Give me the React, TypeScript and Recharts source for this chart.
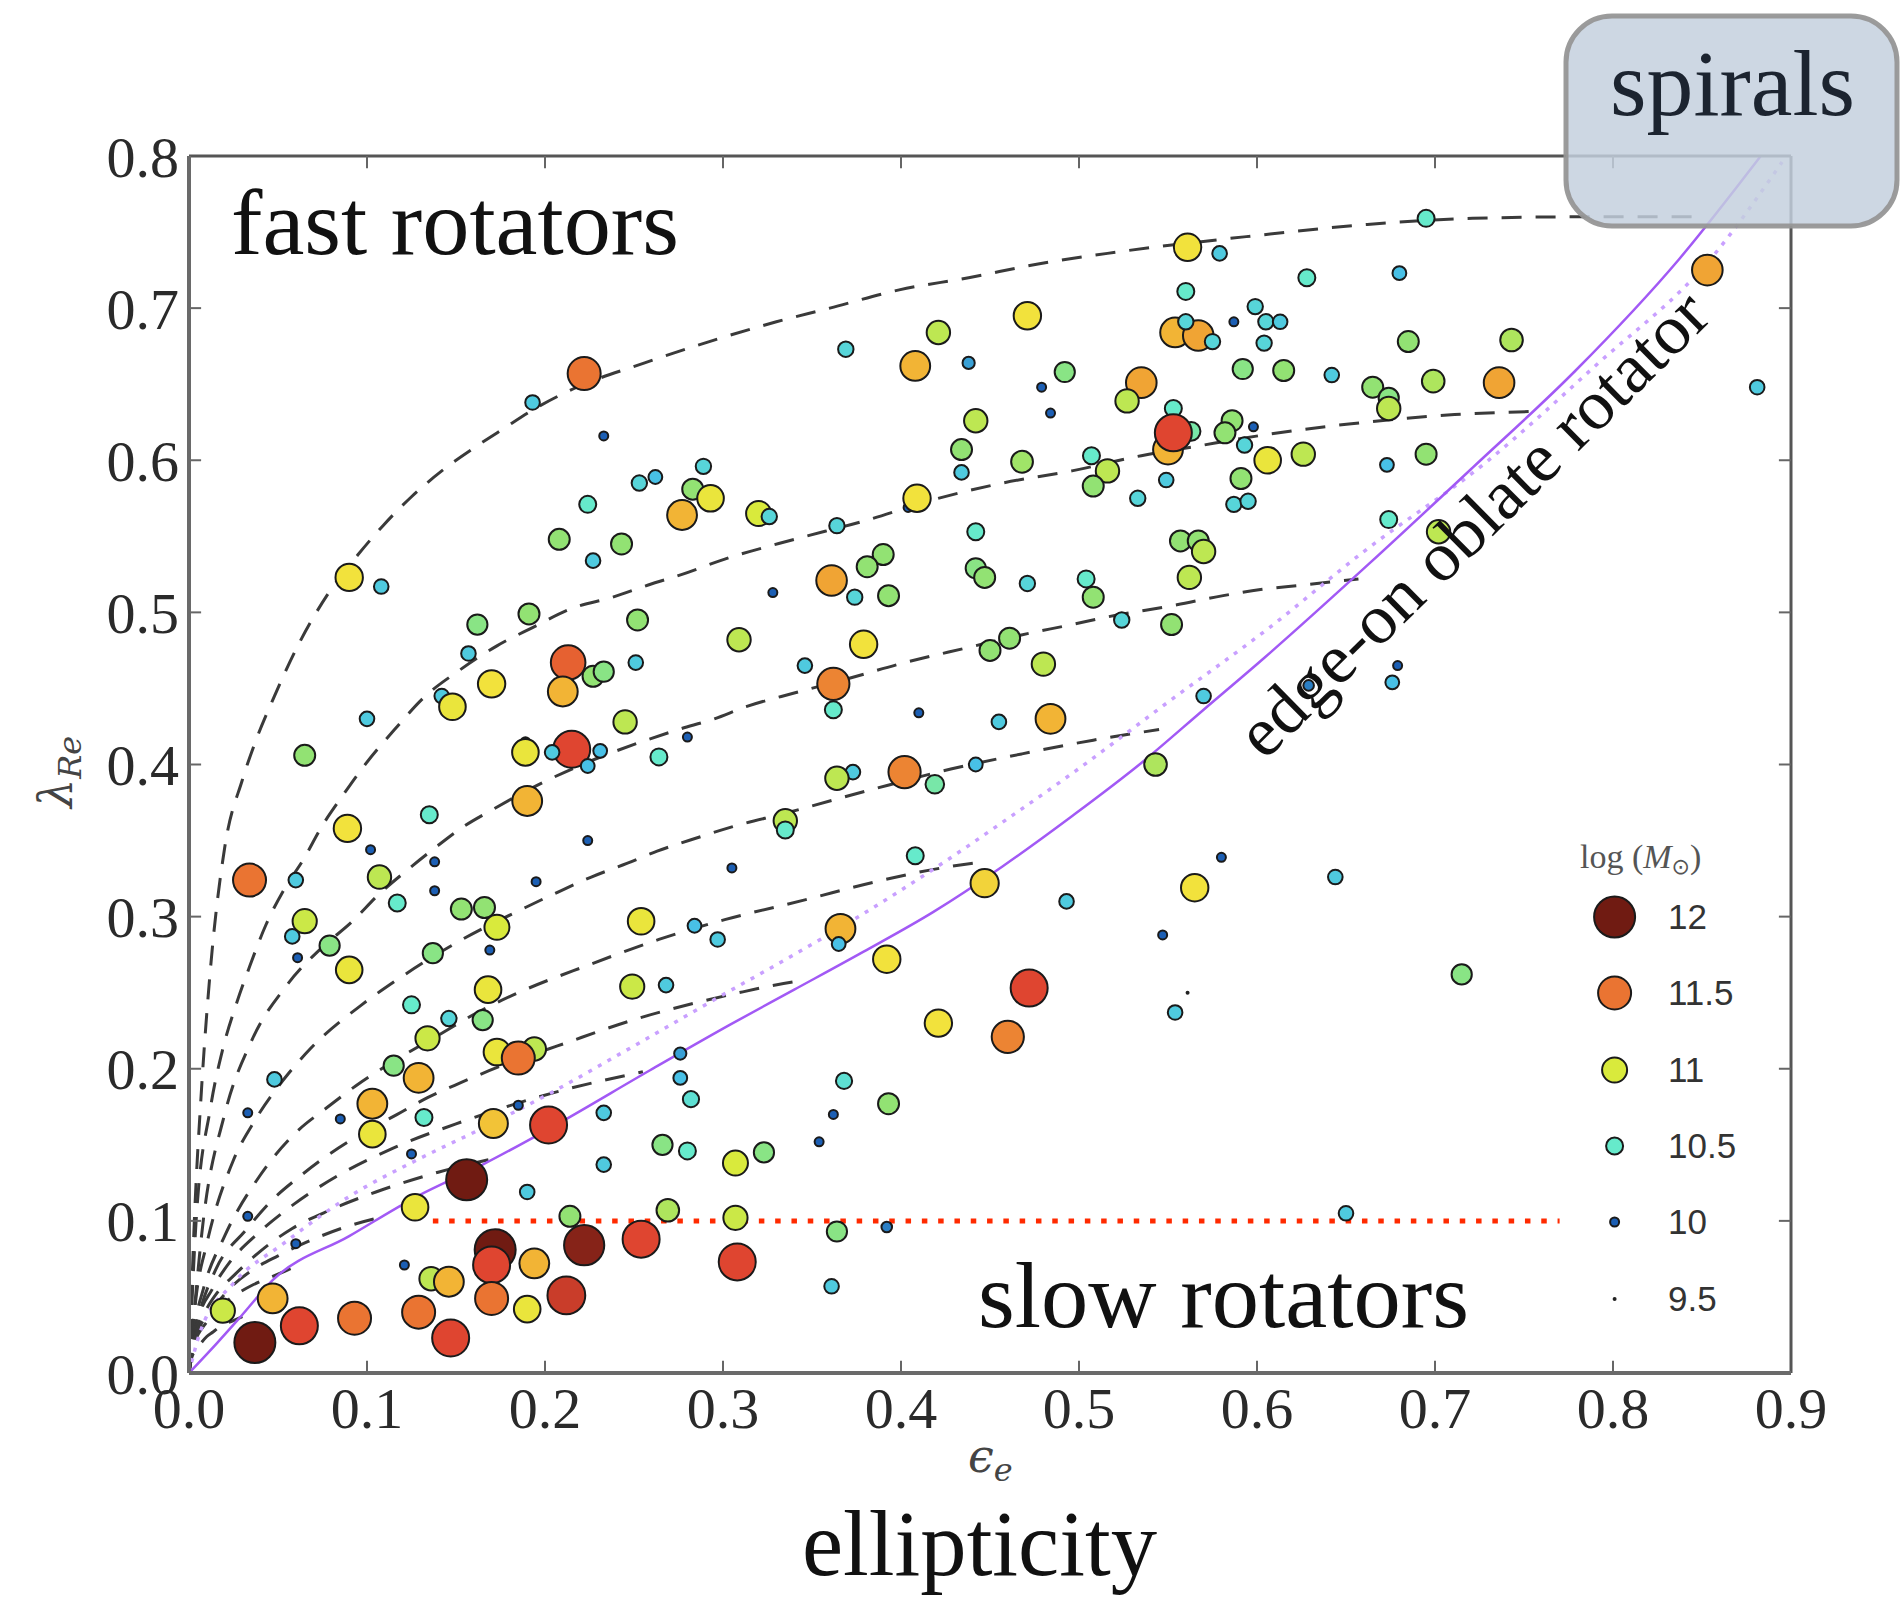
import React from "react";
import { ComposedChart, XAxis, YAxis, Scatter, Line, ReferenceLine } from "recharts";

const W = 1900;
const H = 1603;
const serif = "'Liberation Serif', 'DejaVu Serif', serif";
const sans = "'Liberation Sans', Arial, sans-serif";

const xTicks = [0, 0.1, 0.2, 0.3, 0.4, 0.5, 0.6, 0.7, 0.8, 0.9];
const yTicks = [0, 0.1, 0.2, 0.3, 0.4, 0.5, 0.6, 0.7, 0.8];

// galaxies: [ellipticity, lambda_Re, log M]
const upperMiddle: [number, number, number][] = [
  [0.561, 0.74, 11.15], [0.579, 0.736, 10.35], [0.56, 0.711, 10.5], [0.471, 0.695, 11.15],
  [0.421, 0.684, 10.9], [0.369, 0.673, 10.4], [0.408, 0.662, 11.3], [0.438, 0.664, 10.2],
  [0.554, 0.684, 11.3], [0.567, 0.682, 11.35], [0.56, 0.691, 10.4], [0.575, 0.678, 10.4],
  [0.587, 0.691, 10.0], [0.599, 0.701, 10.4], [0.605, 0.691, 10.4], [0.604, 0.677, 10.4],
  [0.592, 0.66, 10.7], [0.492, 0.658, 10.7], [0.479, 0.648, 10.0], [0.484, 0.631, 10.0],
  [0.535, 0.651, 11.35], [0.527, 0.639, 10.9], [0.553, 0.634, 10.5], [0.55, 0.607, 11.3],
  [0.563, 0.619, 10.6], [0.553, 0.618, 11.75], [0.586, 0.626, 10.75], [0.582, 0.618, 10.75],
  [0.598, 0.622, 10.0], [0.593, 0.61, 10.4], [0.606, 0.6, 11.1], [0.591, 0.588, 10.75],
  [0.587, 0.571, 10.4], [0.595, 0.573, 10.4], [0.442, 0.626, 10.9], [0.434, 0.607, 10.75],
  [0.434, 0.592, 10.35], [0.468, 0.599, 10.8], [0.507, 0.603, 10.5], [0.516, 0.593, 10.9],
  [0.508, 0.583, 10.75], [0.533, 0.575, 10.4], [0.549, 0.587, 10.35], [0.404, 0.569, 10.0],
  [0.409, 0.575, 11.15], [0.32, 0.565, 11.0], [0.326, 0.563, 10.4], [0.364, 0.557, 10.4],
  [0.442, 0.553, 10.5], [0.39, 0.538, 10.75], [0.381, 0.53, 10.75], [0.361, 0.521, 11.35],
  [0.374, 0.51, 10.4], [0.393, 0.511, 10.75], [0.328, 0.513, 10.0], [0.442, 0.529, 10.7],
  [0.447, 0.523, 10.75], [0.471, 0.519, 10.4], [0.504, 0.522, 10.5], [0.508, 0.51, 10.75],
  [0.557, 0.547, 10.75], [0.567, 0.547, 10.75], [0.57, 0.54, 10.9], [0.562, 0.523, 10.9],
  [0.552, 0.492, 10.75], [0.524, 0.495, 10.4], [0.309, 0.482, 10.9], [0.379, 0.479, 11.15],
  [0.346, 0.465, 10.35], [0.362, 0.453, 11.45], [0.362, 0.436, 10.5], [0.41, 0.434, 10.0],
  [0.455, 0.428, 10.35], [0.461, 0.483, 10.75], [0.45, 0.475, 10.75], [0.48, 0.466, 10.9],
  [0.484, 0.43, 11.3], [0.57, 0.445, 10.35], [0.543, 0.4, 10.85], [0.402, 0.395, 11.45],
  [0.373, 0.395, 10.35], [0.442, 0.4, 10.3],
];

const upperLeft: [number, number, number][] = [
  [0.222, 0.657, 11.5], [0.193, 0.638, 10.35], [0.233, 0.616, 10.0], [0.289, 0.596, 10.4],
  [0.253, 0.585, 10.4], [0.262, 0.589, 10.3], [0.283, 0.581, 10.75], [0.293, 0.575, 11.1],
  [0.277, 0.564, 11.3], [0.224, 0.571, 10.5], [0.208, 0.548, 10.75], [0.243, 0.545, 10.75],
  [0.227, 0.534, 10.35], [0.09, 0.523, 11.15], [0.108, 0.517, 10.35], [0.191, 0.499, 10.75],
  [0.162, 0.492, 10.7], [0.252, 0.495, 10.75], [0.157, 0.473, 10.35], [0.251, 0.467, 10.35],
  [0.213, 0.467, 11.6], [0.227, 0.458, 10.75], [0.233, 0.461, 10.7], [0.17, 0.453, 11.15],
  [0.21, 0.448, 11.3], [0.142, 0.445, 10.35], [0.148, 0.438, 11.1], [0.1, 0.43, 10.35],
  [0.245, 0.428, 10.9], [0.28, 0.418, 10.0], [0.065, 0.406, 10.75], [0.215, 0.41, 11.75],
  [0.189, 0.415, 10.0], [0.189, 0.408, 11.1], [0.204, 0.408, 10.35], [0.231, 0.409, 10.3],
  [0.264, 0.405, 10.5], [0.224, 0.399, 10.3],
];

const upperRight: [number, number, number][] = [
  [0.695, 0.759, 10.5], [0.628, 0.72, 10.5], [0.68, 0.723, 10.3], [0.613, 0.691, 10.35],
  [0.685, 0.678, 10.75], [0.743, 0.679, 10.85], [0.853, 0.725, 11.35], [0.615, 0.659, 10.75],
  [0.642, 0.656, 10.35], [0.699, 0.652, 10.85], [0.736, 0.651, 11.35], [0.665, 0.648, 10.75],
  [0.674, 0.641, 10.7], [0.674, 0.634, 10.9], [0.881, 0.648, 10.35], [0.626, 0.604, 10.9],
  [0.673, 0.597, 10.3], [0.695, 0.604, 10.75], [0.674, 0.561, 10.5], [0.702, 0.553, 10.9],
  [0.679, 0.465, 10.0], [0.676, 0.454, 10.3], [0.629, 0.452, 10.1],
];

const lowerLeft: [number, number, number][] = [
  [0.034, 0.324, 11.5], [0.06, 0.324, 10.35], [0.089, 0.358, 11.15], [0.135, 0.367, 10.5],
  [0.19, 0.376, 11.3], [0.224, 0.35, 10.0], [0.102, 0.344, 10.0], [0.107, 0.326, 10.9],
  [0.117, 0.309, 10.5], [0.138, 0.336, 10.0], [0.138, 0.317, 10.0], [0.195, 0.323, 10.0],
  [0.065, 0.297, 10.95], [0.058, 0.287, 10.35], [0.079, 0.281, 10.7], [0.061, 0.273, 10.0],
  [0.09, 0.265, 11.1], [0.153, 0.305, 10.75], [0.166, 0.306, 10.75], [0.173, 0.293, 11.0],
  [0.169, 0.278, 10.0], [0.137, 0.276, 10.7], [0.254, 0.297, 11.1], [0.284, 0.294, 10.3],
  [0.297, 0.285, 10.35], [0.168, 0.252, 11.1], [0.125, 0.242, 10.5], [0.146, 0.233, 10.4],
  [0.165, 0.232, 10.7], [0.134, 0.22, 10.95], [0.249, 0.254, 10.95], [0.268, 0.255, 10.35],
  [0.194, 0.213, 10.9], [0.173, 0.211, 11.1], [0.185, 0.207, 11.5], [0.048, 0.193, 10.35],
  [0.115, 0.202, 10.7], [0.129, 0.194, 11.3], [0.103, 0.177, 11.3], [0.103, 0.157, 11.1],
  [0.132, 0.168, 10.5], [0.171, 0.164, 11.25], [0.185, 0.176, 10.0], [0.202, 0.163, 11.75],
  [0.033, 0.171, 10.0], [0.085, 0.167, 10.0], [0.125, 0.144, 10.0], [0.233, 0.171, 10.35],
  [0.276, 0.21, 10.2], [0.276, 0.194, 10.3], [0.282, 0.18, 10.45], [0.266, 0.15, 10.7],
  [0.28, 0.146, 10.5], [0.233, 0.137, 10.35], [0.156, 0.127, 12.0], [0.127, 0.109, 11.1],
  [0.19, 0.119, 10.35], [0.214, 0.103, 10.75], [0.269, 0.107, 10.85], [0.307, 0.138, 11.0],
  [0.033, 0.103, 10.0], [0.06, 0.085, 10.0], [0.222, 0.084, 11.95], [0.254, 0.088, 11.75],
  [0.172, 0.081, 12.0], [0.17, 0.071, 11.75], [0.194, 0.072, 11.3], [0.121, 0.071, 10.0],
  [0.136, 0.062, 10.9], [0.146, 0.06, 11.3], [0.308, 0.073, 11.75], [0.17, 0.049, 11.5],
  [0.19, 0.042, 11.1], [0.212, 0.051, 11.8], [0.019, 0.041, 10.95], [0.047, 0.049, 11.3],
  [0.037, 0.02, 12.0], [0.062, 0.031, 11.75], [0.093, 0.036, 11.5], [0.129, 0.04, 11.5],
  [0.147, 0.023, 11.75],
];

const lowerMiddle: [number, number, number][] = [
  [0.364, 0.391, 10.9], [0.419, 0.387, 10.6], [0.335, 0.363, 10.9], [0.335, 0.357, 10.5],
  [0.305, 0.332, 10.0], [0.408, 0.34, 10.5], [0.447, 0.322, 11.2], [0.58, 0.339, 10.0],
  [0.565, 0.319, 11.15], [0.493, 0.31, 10.35], [0.547, 0.288, 10.0], [0.366, 0.292, 11.3],
  [0.365, 0.282, 10.3], [0.392, 0.272, 11.15], [0.472, 0.253, 11.75], [0.561, 0.25, 9.6],
  [0.554, 0.237, 10.35], [0.421, 0.23, 11.15], [0.46, 0.221, 11.45], [0.368, 0.192, 10.45],
  [0.362, 0.17, 10.0], [0.393, 0.177, 10.75], [0.354, 0.152, 10.0], [0.323, 0.145, 10.7],
  [0.307, 0.102, 10.95], [0.364, 0.093, 10.7], [0.392, 0.096, 10.1], [0.361, 0.057, 10.35],
];

const farRight: [number, number, number][] = [
  [0.644, 0.326, 10.35], [0.715, 0.262, 10.7], [0.65, 0.105, 10.35],
];

// inclination tracks (dashed), [eps, lambda]
const trackA: [number, number][] = [
  [0, 0], [0.003, 0.1], [0.007, 0.186], [0.012, 0.265], [0.02, 0.345], [0.03, 0.39], [0.037, 0.414],
  [0.048, 0.445], [0.062, 0.48], [0.078, 0.512], [0.095, 0.538], [0.109, 0.557], [0.125, 0.576],
  [0.142, 0.593], [0.16, 0.608], [0.177, 0.621], [0.193, 0.633], [0.216, 0.647], [0.256, 0.664],
  [0.295, 0.679], [0.33, 0.691], [0.36, 0.7], [0.399, 0.712], [0.438, 0.72], [0.477, 0.729],
  [0.516, 0.736], [0.594, 0.747], [0.662, 0.755], [0.721, 0.759], [0.779, 0.76], [0.846, 0.76],
];
const trackB: [number, number][] = [
  [0, 0], [0.004, 0.1], [0.012, 0.174], [0.019, 0.213], [0.027, 0.244], [0.034, 0.267], [0.043, 0.294],
  [0.054, 0.319], [0.064, 0.337], [0.075, 0.36], [0.086, 0.379], [0.097, 0.397], [0.117, 0.425],
  [0.131, 0.443], [0.152, 0.462], [0.173, 0.478], [0.193, 0.49], [0.216, 0.503], [0.238, 0.51],
  [0.258, 0.518], [0.277, 0.525], [0.301, 0.535], [0.34, 0.548], [0.379, 0.56], [0.418, 0.574],
  [0.457, 0.585], [0.496, 0.593], [0.535, 0.603], [0.565, 0.609], [0.606, 0.617], [0.653, 0.624],
  [0.711, 0.63], [0.753, 0.632],
];
const trackC: [number, number][] = [
  [0, 0], [0.008, 0.1], [0.02, 0.17], [0.035, 0.218], [0.055, 0.255], [0.075, 0.28], [0.091, 0.296],
  [0.107, 0.315], [0.123, 0.331], [0.138, 0.345], [0.154, 0.359], [0.17, 0.37], [0.195, 0.386],
  [0.225, 0.402], [0.252, 0.414], [0.275, 0.423], [0.295, 0.43], [0.313, 0.438], [0.34, 0.447],
  [0.369, 0.456], [0.399, 0.466], [0.438, 0.477], [0.467, 0.485], [0.496, 0.492], [0.516, 0.497],
  [0.555, 0.505], [0.581, 0.511], [0.602, 0.515], [0.626, 0.518], [0.657, 0.522],
];
const trackD: [number, number][] = [
  [0, 0], [0.004, 0.05], [0.01, 0.085], [0.025, 0.14], [0.037, 0.166], [0.056, 0.197], [0.068, 0.213],
  [0.097, 0.242], [0.115, 0.257], [0.152, 0.284], [0.189, 0.306], [0.207, 0.316], [0.226, 0.326],
  [0.246, 0.335], [0.263, 0.343], [0.286, 0.352], [0.305, 0.359], [0.335, 0.368], [0.385, 0.384],
  [0.428, 0.397], [0.468, 0.407], [0.508, 0.416], [0.545, 0.423],
];
const trackE: [number, number][] = [
  [0, 0], [0.003, 0.03], [0.008, 0.055], [0.02, 0.09], [0.04, 0.13], [0.06, 0.158], [0.077, 0.174],
  [0.094, 0.189], [0.115, 0.205], [0.14, 0.222], [0.162, 0.237], [0.185, 0.25], [0.224, 0.268],
  [0.264, 0.285], [0.301, 0.298], [0.346, 0.311], [0.386, 0.323], [0.428, 0.333], [0.447, 0.336],
];
const trackF: [number, number][] = [
  [0, 0], [0.002, 0.02], [0.006, 0.04], [0.015, 0.068], [0.032, 0.094], [0.047, 0.114], [0.062, 0.129],
  [0.079, 0.144], [0.098, 0.158], [0.117, 0.17], [0.134, 0.181], [0.153, 0.191], [0.18, 0.204],
  [0.207, 0.215], [0.252, 0.233], [0.287, 0.244], [0.309, 0.25], [0.334, 0.256], [0.345, 0.258],
];
const trackG: [number, number][] = [
  [0, 0], [0.005, 0.034], [0.013, 0.055], [0.023, 0.073], [0.038, 0.091], [0.059, 0.111],
  [0.084, 0.13], [0.115, 0.148], [0.153, 0.165], [0.204, 0.184], [0.255, 0.198],
];
const trackH: [number, number][] = [
  [0, 0], [0.0035, 0.024], [0.009, 0.04], [0.016, 0.053], [0.026, 0.065], [0.04, 0.08],
  [0.058, 0.095], [0.079, 0.107], [0.105, 0.119], [0.14, 0.132], [0.175, 0.142],
];
const trackI: [number, number][] = [
  [0, 0], [0.002, 0.018], [0.0055, 0.029], [0.01, 0.038], [0.0165, 0.047], [0.025, 0.058],
  [0.036, 0.068], [0.05, 0.077], [0.066, 0.086], [0.088, 0.096], [0.11, 0.103],
];
const trackJ: [number, number][] = [
  [0, 0], [0.001, 0.012], [0.003, 0.02], [0.0054, 0.026], [0.009, 0.032], [0.014, 0.039],
  [0.02, 0.046], [0.027, 0.052], [0.036, 0.058], [0.048, 0.064], [0.06, 0.07],
];
const trackK: [number, number][] = [
  [0, 0], [0.0015, 0.01], [0.0045, 0.016], [0.007, 0.02], [0.01, 0.024], [0.0135, 0.027],
  [0.018, 0.031], [0.024, 0.034], [0.03, 0.037],
];

// edge-on oblate rotator (solid) and isotropic (dotted) lines
const edgeOnLine: [number, number][] = [
  [0, 0], [0.016, 0.02], [0.029, 0.037], [0.047, 0.061], [0.09, 0.09], [0.128, 0.116], [0.165, 0.137],
  [0.203, 0.161], [0.259, 0.199], [0.304, 0.229], [0.34, 0.252], [0.379, 0.277], [0.418, 0.303],
  [0.457, 0.333], [0.496, 0.366], [0.535, 0.401], [0.57, 0.436], [0.604, 0.47], [0.663, 0.532],
  [0.721, 0.595], [0.779, 0.659], [0.837, 0.732], [0.883, 0.8],
];
const isotropicLine: [number, number][] = [
  [0, 0], [0.006, 0.026], [0.025, 0.059], [0.053, 0.085], [0.09, 0.116], [0.128, 0.14], [0.165, 0.161],
  [0.203, 0.184], [0.25, 0.215], [0.302, 0.25], [0.34, 0.275], [0.379, 0.302], [0.418, 0.331],
  [0.457, 0.362], [0.496, 0.394], [0.55, 0.441], [0.607, 0.49], [0.66, 0.54], [0.728, 0.598],
  [0.79, 0.662], [0.856, 0.734], [0.895, 0.796],
];
const slowRotatorLimit: [number, number][] = [[0.137, 0.1], [0.77, 0.1]];

const legendMasses = [12, 11.5, 11, 10.5, 10, 9.5];
const legendLabels = ["12", "11.5", "11", "10.5", "10", "9.5"];
const legendY = [917, 993, 1070, 1146, 1222, 1299];

const colorStops: [number, string][] = [
  [9.5, "#16165c"], [10.0, "#1c5fb4"], [10.3, "#48c0e6"], [10.5, "#66eacb"], [10.75, "#92e273"],
  [11.0, "#d9ea3c"], [11.15, "#f2e23c"], [11.3, "#f2b435"], [11.5, "#ea7432"], [11.75, "#df4530"],
  [12.0, "#701b12"],
];

function hexToRgb(h: string) {
  return [parseInt(h.slice(1, 3), 16), parseInt(h.slice(3, 5), 16), parseInt(h.slice(5, 7), 16)];
}

function massColor(m: number) {
  if (m <= colorStops[0][0]) return colorStops[0][1];
  for (let i = 1; i < colorStops.length; i++) {
    if (m <= colorStops[i][0]) {
      const [m0, c0] = colorStops[i - 1];
      const [m1, c1] = colorStops[i];
      const t = (m - m0) / (m1 - m0);
      const a = hexToRgb(c0);
      const b = hexToRgb(c1);
      const c = a.map((v, k) => Math.round(v + (b[k] - v) * t));
      return `rgb(${c[0]},${c[1]},${c[2]})`;
    }
  }
  return colorStops[colorStops.length - 1][1];
}

const dotRadius = (m: number) => 1.5 + (m - 9.5) * 8;

const galaxies = [...upperMiddle, ...upperLeft, ...upperRight, ...lowerLeft, ...lowerMiddle, ...farRight].map(
  ([x, y, m]) => ({ x, y, m })
);
const tracks = [trackA, trackB, trackC, trackD, trackE, trackF, trackG, trackH, trackI, trackJ, trackK];
const toXY = (pts: [number, number][]) => pts.map(([x, y]) => ({ x, y }));

const Dot = ({ cx, cy, m }: { cx: number; cy: number; m: number }) => {
  const r = dotRadius(m);
  if (r < 3) return <circle cx={cx} cy={cy} r={2} fill="#222" />;
  return <circle cx={cx} cy={cy} r={r - 1} fill={massColor(m)} stroke="#1a1a1a" strokeWidth={2} />;
};

const GalaxyShape = (props: any) => {
  const { cx, cy, payload } = props;
  if (cx == null || cy == null || !payload) return <g />;
  return <Dot cx={cx} cy={cy} m={payload.m} />;
};

const tickStyle = { fontFamily: serif, fontSize: 58, fill: "#2a2a2a" };

export default function App() {
  return (
    <div style={{ position: "absolute", left: 0, top: 0, width: W, height: H, background: "#fff" }}>
      <ComposedChart width={W} height={H} margin={{ top: 156, right: 109, bottom: 170, left: 69 }}>
        <XAxis
          type="number"
          dataKey="x"
          domain={[0, 0.9]}
          ticks={xTicks}
          interval={0}
          allowDataOverflow
          height={60}
          tickLine={false}
          tickSize={0}
          tickMargin={14}
          axisLine={{ stroke: "#6a6a6a", strokeWidth: 4 }}
          tick={tickStyle}
          tickFormatter={(v: number) => v.toFixed(1)}
        />
        <YAxis
          type="number"
          domain={[0, 0.8]}
          ticks={yTicks}
          interval={0}
          allowDataOverflow
          width={120}
          tickLine={false}
          tickSize={0}
          tickMargin={10}
          axisLine={{ stroke: "#6a6a6a", strokeWidth: 4 }}
          tick={tickStyle}
          tickFormatter={(v: number) => v.toFixed(1)}
        />
        <Scatter data={galaxies} dataKey="y" shape={GalaxyShape} isAnimationActive={false} />
        {tracks.map((t, i) => (
          <Line
            key={"track" + i}
            data={toXY(t)}
            dataKey="y"
            type="monotone"
            stroke="#3a3a3a"
            strokeWidth={3}
            strokeDasharray="20 14"
            dot={false}
            activeDot={false}
            isAnimationActive={false}
          />
        ))}
        <Line
          data={toXY(isotropicLine)}
          dataKey="y"
          type="monotone"
          stroke="#c9a0ff"
          strokeWidth={3.5}
          strokeDasharray="4 7"
          dot={false}
          activeDot={false}
          isAnimationActive={false}
        />
        <Line
          data={toXY(edgeOnLine)}
          dataKey="y"
          type="monotone"
          stroke="#a259f5"
          strokeWidth={2.5}
          dot={false}
          activeDot={false}
          isAnimationActive={false}
        />
        <Line
          data={toXY(slowRotatorLimit)}
          dataKey="y"
          type="linear"
          stroke="#ff2a00"
          strokeWidth={5}
          strokeDasharray="5.5 10.8"
          dot={false}
          activeDot={false}
          isAnimationActive={false}
        />
        <ReferenceLine y={0.8} stroke="#555" strokeWidth={3} />
        <ReferenceLine x={0.9} stroke="#555" strokeWidth={3} />
        {xTicks.slice(1, -1).map((v) => (
          <ReferenceLine key={"bt" + v} segment={[{ x: v, y: 0 }, { x: v, y: 0.008 }]} stroke="#666" strokeWidth={2} />
        ))}
        {xTicks.slice(1, -1).map((v) => (
          <ReferenceLine key={"tt" + v} segment={[{ x: v, y: 0.8 }, { x: v, y: 0.792 }]} stroke="#666" strokeWidth={2} />
        ))}
        {yTicks.slice(1, -1).map((v) => (
          <ReferenceLine key={"lt" + v} segment={[{ x: 0, y: v }, { x: 0.0068, y: v }]} stroke="#666" strokeWidth={2} />
        ))}
        {yTicks.slice(1, -1).map((v) => (
          <ReferenceLine key={"rt" + v} segment={[{ x: 0.9, y: v }, { x: 0.8932, y: v }]} stroke="#666" strokeWidth={2} />
        ))}
      </ComposedChart>

      <svg width={W} height={H} style={{ position: "absolute", left: 0, top: 0, pointerEvents: "none" }}>
        <text x={231} y={254} fontFamily={serif} fontSize={93} fill="#111" textLength={448} lengthAdjust="spacingAndGlyphs">
          fast rotators
        </text>
        <text x={978} y={1327} fontFamily={serif} fontSize={93} fill="#111" textLength={491} lengthAdjust="spacingAndGlyphs">
          slow rotators
        </text>
        <text x={802} y={1575} fontFamily={serif} fontSize={93} fill="#111" textLength={355} lengthAdjust="spacingAndGlyphs">
          ellipticity
        </text>
        <text
          transform="translate(1489,540) rotate(-44.6)"
          textAnchor="middle"
          fontFamily={serif}
          fontSize={70}
          fill="#111"
          textLength={630}
          lengthAdjust="spacingAndGlyphs"
        >
          edge-on oblate rotator
        </text>

        {/* axis labels */}
        <text transform="translate(72,808) rotate(-90)" fontFamily="'DejaVu Serif', serif" fontStyle="italic" fontSize={46} fill="#444">
          λ<tspan fontSize={32} dy={9}>Re</tspan>
        </text>
        <text x={968} y={1472} fontFamily="'DejaVu Serif', serif" fontStyle="italic" fontSize={46} fill="#444">
          ϵ<tspan fontSize={32} dy={9}>e</tspan>
        </text>

        {/* legend */}
        <text x={1580} y={868} fontFamily={serif} fontSize={34} fill="#555">
          log (<tspan fontStyle="italic">M</tspan>
          <tspan fontSize={22} dy={6} fontFamily="'DejaVu Sans', sans-serif">⊙</tspan>
          <tspan dy={-6}>)</tspan>
        </text>
        {legendMasses.map((m, i) => (
          <g key={"leg" + m}>
            <Dot cx={1614.6} cy={legendY[i]} m={m} />
            <text x={1668} y={legendY[i] + 12} fontFamily={sans} fontSize={35} fill="#333">
              {legendLabels[i]}
            </text>
          </g>
        ))}

        {/* spirals box */}
        <rect x={1566} y={16} width={331} height={210} rx={46} fill="rgba(196,207,222,0.84)" stroke="rgba(150,150,150,0.95)" strokeWidth={5} />
        <text x={1610} y={115} fontFamily={serif} fontSize={94} fill="#1c2430" textLength={245} lengthAdjust="spacingAndGlyphs">
          spirals
        </text>
      </svg>
    </div>
  );
}
